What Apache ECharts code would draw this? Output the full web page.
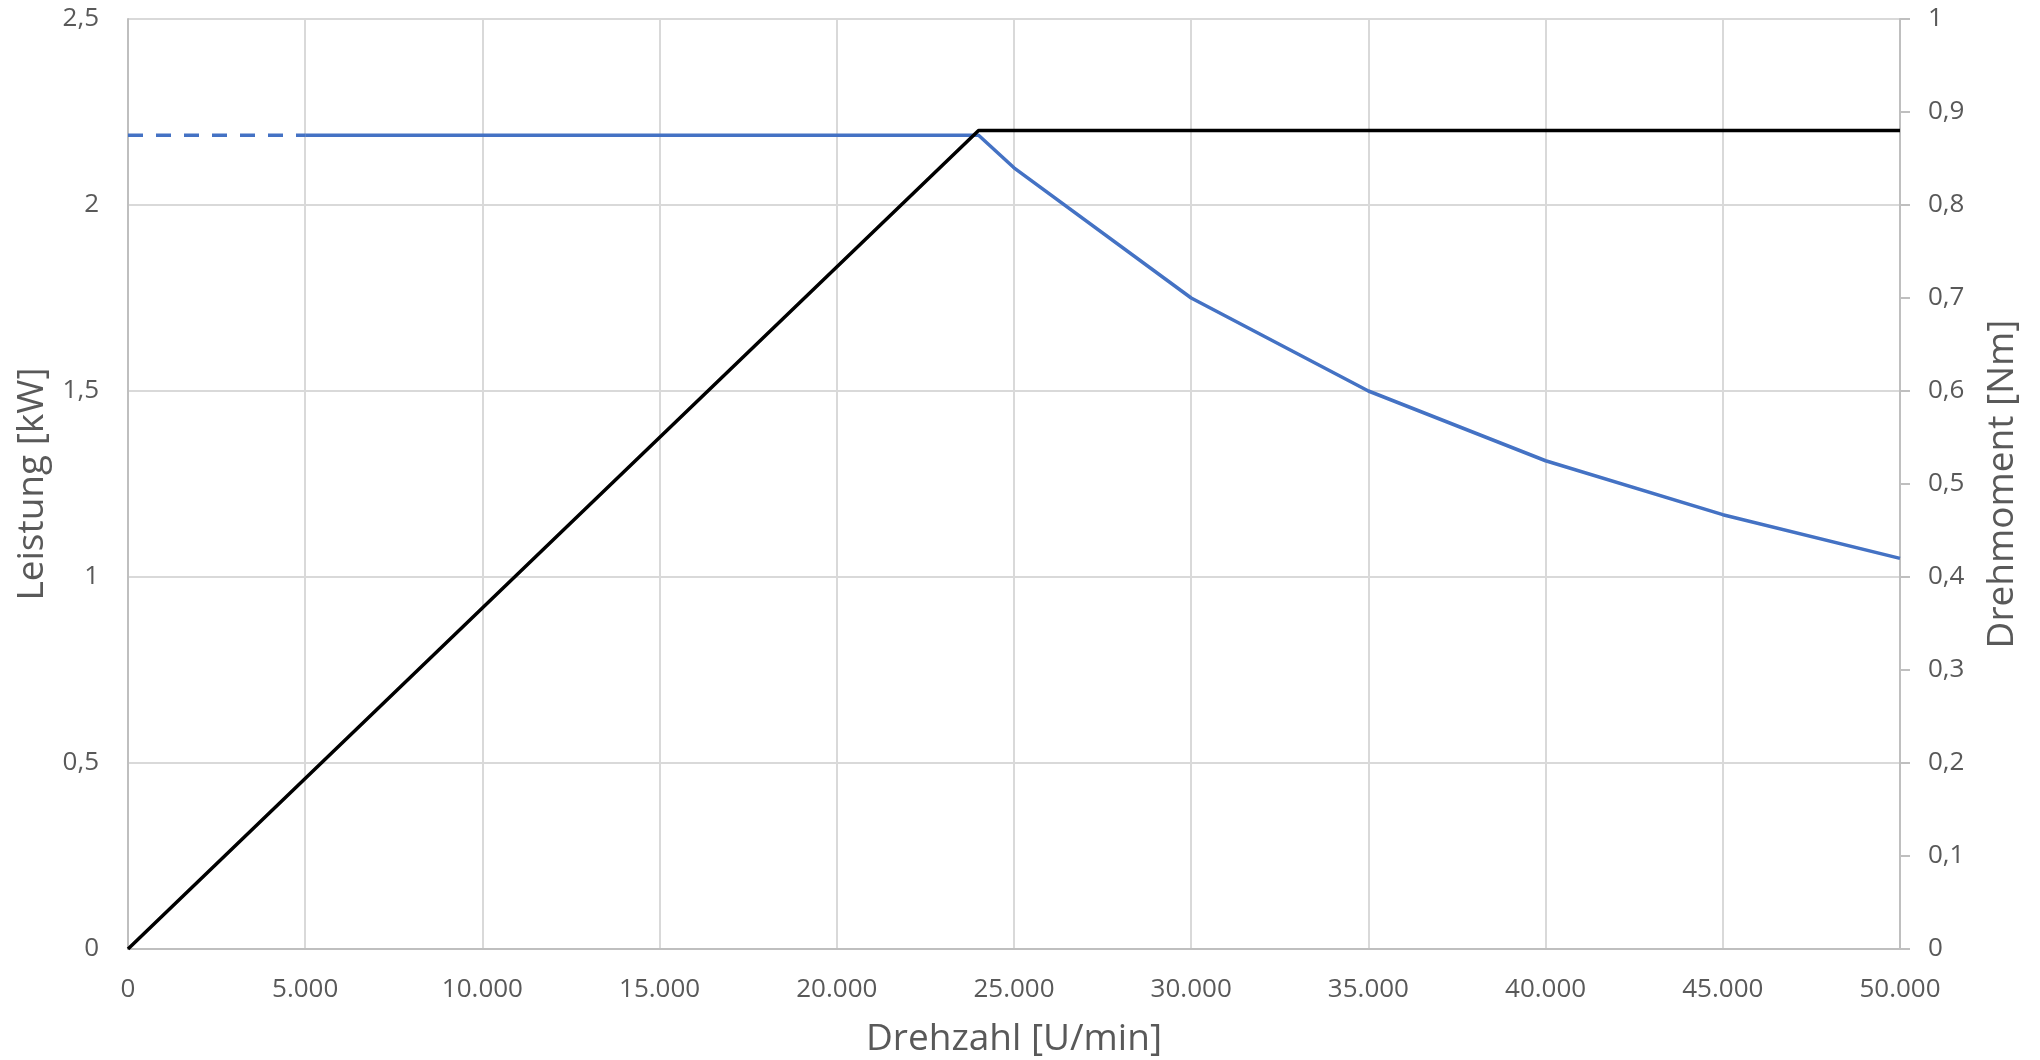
<!DOCTYPE html>
<html>
<head>
<meta charset="utf-8">
<script src="https://cdn.jsdelivr.net/npm/echarts@6/dist/echarts.min.js"></script>
<style>
html,body{margin:0;padding:0;background:#fff;}
#chart{width:2040px;height:1060px;}
</style>
</head>
<body>
<div id="chart"></div>
<script>
// Data
const torqueSpeed = [0, 5000, 24000, 25000, 30000, 35000, 40000, 45000, 50000];
const torqueNm = [0.875, 0.875, 0.875, 0.84, 0.70, 0.60, 0.525, 0.467, 0.42];
const dashedUntil = 5000;
const powerSpeed = [0, 24000, 50000];
const powerKW = [0, 2.2, 2.2];
const xName = 'Drehzahl [U/min]';
const yLeftName = 'Leistung [kW]';
const yRightName = 'Drehmoment [Nm]';

const torqueDashed = [], torqueSolid = [];
torqueSpeed.forEach((s, i) => {
  if (s <= dashedUntil) torqueDashed.push([s, torqueNm[i]]);
  if (s >= dashedUntil) torqueSolid.push([s, torqueNm[i]]);
});
const powerData = powerSpeed.map((s, i) => [s, powerKW[i]]);

const font = '"Open Sans", sans-serif';
const grey = '#595959';
const dec = v => String(Math.round(v * 100) / 100).replace('.', ',');
const thou = v => String(v).replace(/\B(?=(\d{3})+(?!\d))/g, '.');

const chart = echarts.init(document.getElementById('chart'), null, {renderer: 'canvas'});
chart.setOption({
  animation: false,
  backgroundColor: '#fff',
  textStyle: {fontFamily: font},
  grid: {left: 128, right: 140, top: 19, bottom: 111, containLabel: false, outerBoundsMode: 'none'},
  xAxis: {
    type: 'value', min: 0, max: 50000, interval: 5000,
    name: xName, nameLocation: 'middle', nameGap: 72,
    nameTextStyle: {fontSize: 37, color: grey, fontFamily: font},
    axisLine: {show: true, lineStyle: {color: '#bfbfbf', width: 2}},
    axisTick: {show: false},
    axisLabel: {fontSize: 26, color: grey, margin: 28, fontFamily: font, formatter: thou},
    splitLine: {show: true, lineStyle: {color: '#d9d9d9', width: 2}}
  },
  yAxis: [{
    type: 'value', min: 0, max: 2.5, interval: 0.5, position: 'left',
    name: yLeftName, nameLocation: 'middle', nameGap: 77,
    nameTextStyle: {fontSize: 37, color: grey, fontFamily: font},
    axisLine: {show: true, lineStyle: {color: '#bfbfbf', width: 2}},
    axisTick: {show: false},
    axisLabel: {fontSize: 26, color: grey, margin: 29, fontFamily: font, formatter: dec},
    splitLine: {show: true, lineStyle: {color: '#d9d9d9', width: 2}}
  }, {
    type: 'value', min: 0, max: 1, interval: 0.1, position: 'right',
    name: yRightName, nameLocation: 'middle', nameGap: 84,
    nameTextStyle: {fontSize: 37, color: grey, fontFamily: font},
    axisLine: {show: true, lineStyle: {color: '#bfbfbf', width: 2}},
    axisTick: {show: true, length: 10, inside: false, lineStyle: {color: '#bfbfbf', width: 2}},
    axisLabel: {fontSize: 26, color: grey, margin: 28, fontFamily: font, formatter: dec},
    splitLine: {show: false}
  }],
  series: [{
    type: 'line', yAxisIndex: 1, data: torqueDashed, symbol: 'none',
    lineStyle: {color: '#4472C4', width: 3.5, type: [15, 13]}
  }, {
    type: 'line', yAxisIndex: 1, data: torqueSolid, symbol: 'none',
    lineStyle: {color: '#4472C4', width: 3.5}
  }, {
    type: 'line', yAxisIndex: 0, data: powerData, symbol: 'none',
    lineStyle: {color: '#000000', width: 3.5}
  }]
});
</script>
</body>
</html>
